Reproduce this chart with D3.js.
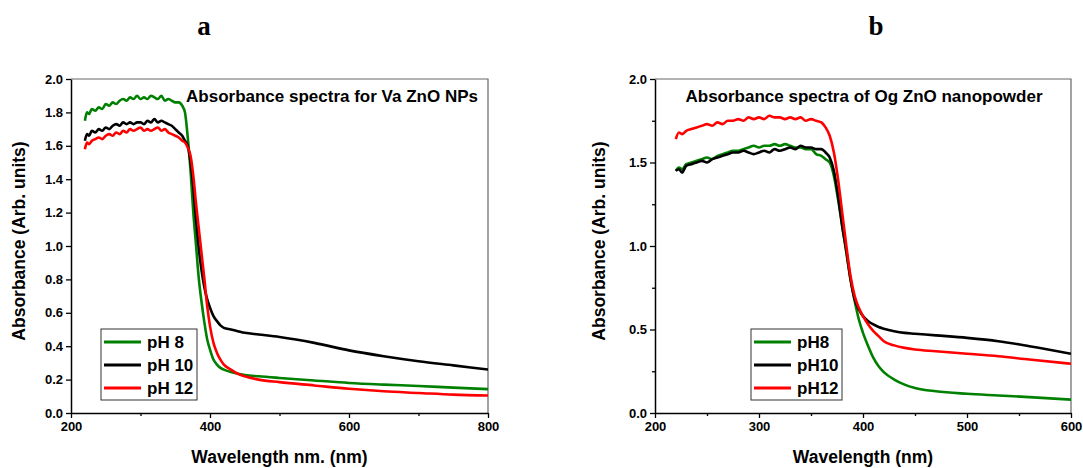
<!DOCTYPE html>
<html>
<head>
<meta charset="UTF-8">
<style>
  body { margin: 0; background: #fff; }
  svg { display: block; }
  .tick text { font-family: "Liberation Sans", Arial, sans-serif; font-weight: bold; font-size: 13px; }
  .axTitle { font-family: "Liberation Sans", Arial, sans-serif; font-weight: bold; font-size: 17.5px; }
  .lgd { font-family: "Liberation Sans", Arial, sans-serif; font-weight: bold; font-size: 17px; }
  .inTitle { font-family: "Liberation Sans", Arial, sans-serif; font-weight: bold; font-size: 17px; }
  .panel { font-family: "Liberation Serif", "Times New Roman", serif; font-weight: bold; font-size: 27px; }
</style>
</head>
<body>
<svg width="1083" height="468"></svg>
<script src="https://d3js.org/d3.v7.min.js"></script>
<script>
// ---- panel a : Va ZnO NPs ----
const wlA = [220,223,226,230,235,240,245,250,255,260,265,270,275,280,285,290,295,300,305,310,315,320,325,330,335,340,345,350,355,360,364,368,372,376,380,384,388,392,396,400,405,410,415,420,430,440,450,470,500,550,600,650,700,750,800];
const pH8A  = [1.75,1.80,1.79,1.82,1.81,1.83,1.82,1.85,1.84,1.86,1.85,1.87,1.88,1.87,1.89,1.88,1.90,1.88,1.89,1.88,1.90,1.89,1.88,1.90,1.87,1.88,1.87,1.86,1.86,1.84,1.80,1.65,1.45,1.20,1.00,0.80,0.66,0.54,0.44,0.38,0.32,0.29,0.27,0.26,0.245,0.235,0.228,0.22,0.21,0.195,0.18,0.17,0.162,0.152,0.143];
const pH10A = [1.63,1.67,1.66,1.69,1.68,1.70,1.69,1.71,1.70,1.72,1.73,1.72,1.74,1.73,1.74,1.73,1.74,1.74,1.73,1.75,1.74,1.76,1.74,1.75,1.74,1.73,1.72,1.70,1.68,1.66,1.63,1.60,1.50,1.35,1.15,0.98,0.85,0.75,0.68,0.63,0.58,0.55,0.525,0.51,0.50,0.49,0.48,0.47,0.455,0.42,0.375,0.34,0.31,0.285,0.26];
const pH12A = [1.58,1.62,1.61,1.63,1.64,1.65,1.64,1.66,1.67,1.66,1.68,1.67,1.69,1.68,1.70,1.69,1.70,1.71,1.69,1.70,1.69,1.70,1.71,1.69,1.70,1.68,1.67,1.66,1.65,1.63,1.62,1.59,1.54,1.42,1.25,1.10,0.95,0.80,0.64,0.52,0.42,0.36,0.32,0.29,0.26,0.235,0.22,0.20,0.185,0.165,0.145,0.13,0.12,0.11,0.105];

// ---- panel b : Og ZnO nanopowder ----
const wlB = [220,223,226,230,235,240,245,250,255,260,265,270,275,280,285,290,295,300,305,310,315,320,325,330,335,340,345,350,355,360,364,368,372,376,380,384,388,392,396,400,405,410,415,420,430,440,450,470,500,530,560,600];
const pH8B  = [1.45,1.47,1.46,1.49,1.50,1.51,1.52,1.53,1.52,1.54,1.55,1.56,1.57,1.57,1.58,1.59,1.60,1.59,1.60,1.60,1.61,1.60,1.61,1.60,1.59,1.59,1.58,1.58,1.55,1.54,1.52,1.50,1.42,1.28,1.12,0.96,0.80,0.67,0.56,0.48,0.40,0.33,0.28,0.245,0.20,0.17,0.15,0.13,0.115,0.105,0.095,0.08];
const pH10B = [1.45,1.46,1.44,1.48,1.49,1.50,1.51,1.50,1.52,1.53,1.54,1.55,1.56,1.56,1.57,1.56,1.55,1.56,1.57,1.56,1.58,1.57,1.58,1.59,1.58,1.60,1.59,1.59,1.58,1.58,1.56,1.53,1.45,1.30,1.12,0.97,0.80,0.68,0.62,0.58,0.55,0.53,0.515,0.505,0.49,0.48,0.475,0.465,0.45,0.43,0.40,0.355];
const pH12B = [1.64,1.68,1.67,1.69,1.70,1.71,1.72,1.73,1.72,1.74,1.73,1.75,1.75,1.76,1.75,1.77,1.76,1.77,1.76,1.78,1.77,1.77,1.76,1.77,1.76,1.77,1.75,1.76,1.75,1.74,1.71,1.66,1.56,1.40,1.20,1.00,0.82,0.70,0.63,0.58,0.53,0.49,0.46,0.43,0.405,0.39,0.38,0.37,0.355,0.34,0.32,0.295];

const colors = ["#008000", "#000000", "#ff0000"];

let svg = d3.select("svg");

function panel(opt) {
  let x = d3.scaleLinear().domain(opt.xDomain).range([opt.left, opt.right]);
  let y = d3.scaleLinear().domain([0, 2]).range([opt.bottom, opt.top]);
  let g = svg.append("g");

  g.append("clipPath").attr("id", opt.id)
    .append("rect")
    .attr("x", opt.left).attr("y", opt.top)
    .attr("width", opt.right - opt.left).attr("height", opt.bottom - opt.top);

  // frame (top/right)
  g.append("path")
    .attr("d", "M" + opt.left + "," + opt.top + "H" + opt.right + "V" + opt.bottom)
    .attr("fill", "none").attr("stroke", "#666").attr("stroke-width", 1.2);

  // minor ticks
  let xAxMinor = d3.axisBottom(x).tickValues(opt.xMinor).tickSize(3).tickFormat("");
  g.append("g").attr("transform", "translate(0," + opt.bottom + ")").call(xAxMinor)
    .call(a => a.select(".domain").remove());
  if (opt.yMinor.length) {
    g.append("g").attr("transform", "translate(" + opt.left + ",0)")
      .call(d3.axisLeft(y).tickValues(opt.yMinor).tickSize(3).tickFormat(""))
      .call(a => a.select(".domain").remove());
  }

  let xAx = d3.axisBottom(x).tickValues(opt.xTicks).tickSize(5).tickSizeOuter(0).tickPadding(4).tickFormat(d3.format("d"));
  g.append("g").attr("transform", "translate(0," + opt.bottom + ")").call(xAx)
    .call(a => a.select(".domain").attr("stroke-width", 1.5));

  let yAx = d3.axisLeft(y).tickValues(opt.yTicks).tickSize(5).tickSizeOuter(0).tickPadding(3).tickFormat(d3.format(".1f"));
  g.append("g").attr("transform", "translate(" + opt.left + ",0)").call(yAx)
    .call(a => a.select(".domain").attr("stroke-width", 1.5));

  g.selectAll(".tick line").attr("stroke-width", 1.3);

  let line = d3.line()
    .x(d => x(d[0])).y(d => y(d[1]))
    .curve(d3.curveMonotoneX);

  let lines = g.append("g").attr("clip-path", "url(#" + opt.id + ")");
  opt.series.forEach((s, i) => {
    lines.append("path")
      .datum(opt.wl.map((w, j) => [w, s[j]]))
      .attr("d", line)
      .attr("fill", "none")
      .attr("stroke", colors[i])
      .attr("stroke-width", 2.6)
      .attr("stroke-linejoin", "round");
  });

  // axis titles
  g.append("text").attr("class", "axTitle")
    .attr("x", (opt.left + opt.right) / 2).attr("y", 463)
    .attr("text-anchor", "middle").text(opt.xTitle);
  g.append("text").attr("class", "axTitle")
    .attr("transform", "translate(" + opt.yTitleX + "," + ((opt.top + opt.bottom) / 2 - 5) + ") rotate(-90)")
    .attr("text-anchor", "middle").text("Absorbance (Arb. units)");

  // inner title
  g.append("text").attr("class", "inTitle")
    .attr("x", opt.titleX).attr("y", 102)
    .attr("text-anchor", "middle").text(opt.title);

  // panel letter
  svg.append("text").attr("class", "panel")
    .attr("x", opt.letterX).attr("y", 35)
    .attr("text-anchor", "middle").text(opt.letter);

  // legend
  let lg = g.append("g");
  lg.append("rect")
    .attr("x", opt.lgX).attr("y", 329)
    .attr("width", opt.lgW).attr("height", 71)
    .attr("fill", "#fff").attr("stroke", "#333").attr("stroke-width", 1);
  opt.labels.forEach((t, i) => {
    let yy = 342 + i * 23;
    lg.append("line")
      .attr("x1", opt.lgX + 3).attr("x2", opt.lgX + 40)
      .attr("y1", yy).attr("y2", yy)
      .attr("stroke", colors[i]).attr("stroke-width", 3);
    lg.append("text").attr("class", "lgd")
      .attr("x", opt.lgX + 46).attr("y", yy + 6).text(t);
  });
}

panel({
  id: "clipA", left: 71, right: 488, top: 79, bottom: 413,
  xDomain: [200, 800], xTicks: [200, 400, 600, 800], xMinor: [300, 500, 700],
  yTicks: [0, 0.2, 0.4, 0.6, 0.8, 1.0, 1.2, 1.4, 1.6, 1.8, 2.0], yMinor: [],
  wl: wlA, series: [pH8A, pH10A, pH12A],
  xTitle: "Wavelength nm. (nm)", yTitleX: 25,
  title: "Absorbance spectra for Va ZnO NPs", titleX: 332,
  letter: "a", letterX: 204,
  lgX: 101, lgW: 96, labels: ["pH 8", "pH 10", "pH 12"]
});

panel({
  id: "clipB", left: 655, right: 1071, top: 79, bottom: 413,
  xDomain: [200, 600], xTicks: [200, 300, 400, 500, 600], xMinor: [250, 350, 450, 550],
  yTicks: [0, 0.5, 1.0, 1.5, 2.0], yMinor: [0.25, 0.75, 1.25, 1.75],
  wl: wlB, series: [pH8B, pH10B, pH12B],
  xTitle: "Wavelength (nm)", yTitleX: 605,
  title: "Absorbance spectra of Og ZnO nanopowder", titleX: 864,
  letter: "b", letterX: 876,
  lgX: 751, lgW: 91, labels: ["pH8", "pH10", "pH12"]
});
</script>
</body>
</html>
